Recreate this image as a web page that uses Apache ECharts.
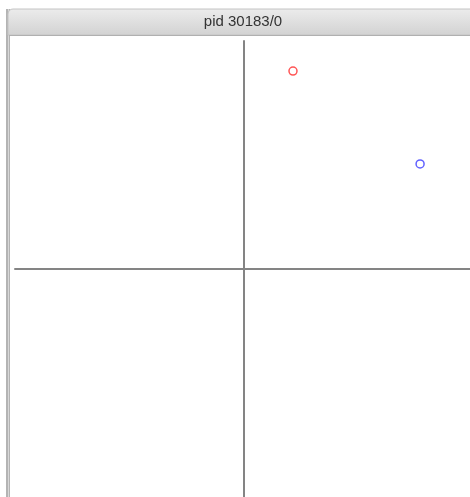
<!DOCTYPE html>
<html>
<head>
<meta charset="utf-8">
<script src="https://cdn.jsdelivr.net/npm/echarts@6/dist/echarts.min.js"></script>
<style>
  html, body { margin: 0; padding: 0; background: #fff; }
  #chart { width: 470px; height: 497px; }
</style>
</head>
<body>
<div id="chart"></div>
<script>
// data
const windowTitle = "pid 30183/0";
const redPoints = [[0.214, 0.868]];
const bluePoints = [[0.769, 0.461]];
// the window crops the right edge of the plot a little
const xRange = [-1, 0.987];
const yRange = [-1, 1];

const chart = echarts.init(document.getElementById("chart"));

const axisCommon = {
  type: "value",
  axisLine: { onZero: true, lineStyle: { color: "#848484", width: 2 } },
  axisTick: { show: false },
  axisLabel: { show: false },
  splitLine: { show: false },
};

const option = {
  animation: false,
  backgroundColor: "#fff",
  grid: { left: 15, right: 0, top: 41, bottom: 0 },
  xAxis: Object.assign({ min: xRange[0], max: xRange[1] }, axisCommon),
  yAxis: Object.assign({ min: yRange[0], max: yRange[1] }, axisCommon),
  graphic: [
    // window left frame
    { type: "rect", shape: { x: 6, y: 9, width: 4, height: 500 }, style: { fill: "#b4b4b4" }, z: 100 },
    { type: "rect", shape: { x: 8, y: 9, width: 1, height: 500 }, style: { fill: "#d8d8d8" }, z: 101 },
    // title bar
    {
      type: "rect",
      shape: { x: 8, y: 9, width: 470, height: 26, r: [5, 0, 0, 0] },
      style: {
        fill: new echarts.graphic.LinearGradient(0, 0, 0, 1, [
          { offset: 0, color: "#ececec" },
          { offset: 1, color: "#d2d2d2" },
        ]),
        stroke: "#c4c4c4",
        lineWidth: 1,
      },
      z: 102,
    },
    { type: "rect", shape: { x: 9, y: 35, width: 470, height: 1 }, style: { fill: "#b0b0b0" }, z: 103 },
    {
      type: "text",
      x: 243, y: 22,
      style: {
        text: windowTitle,
        font: "15px 'Liberation Sans', 'DejaVu Sans', sans-serif",
        fill: "#333",
        align: "center",
        verticalAlign: "middle",
      },
      z: 104,
    },
  ],
  series: [
    {
      type: "scatter",
      data: redPoints,
      symbol: "circle",
      symbolSize: 8,
      itemStyle: { color: "#fff", borderColor: "#ff2a2a", borderWidth: 1.5 },
    },
    {
      type: "scatter",
      data: bluePoints,
      symbol: "circle",
      symbolSize: 8,
      itemStyle: { color: "#fff", borderColor: "#3a3aff", borderWidth: 1.5 },
    },
  ],
};

chart.setOption(option);
</script>
</body>
</html>
